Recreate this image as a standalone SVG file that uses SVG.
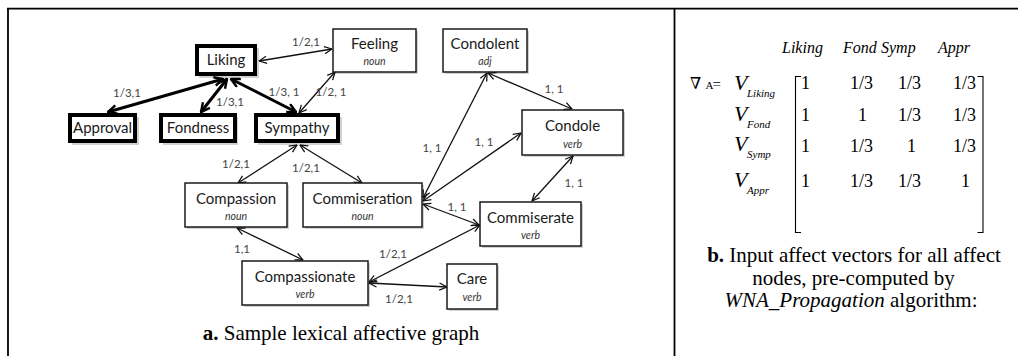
<svg xmlns="http://www.w3.org/2000/svg" width="1018" height="356" viewBox="0 0 1018 356">
  <style>
    .frame { stroke: #000; stroke-width: 1.8; fill: none; }
    .box { fill: #fff; stroke: #1a1a1a; stroke-width: 1.5; }
    .bold { fill: #fff; stroke: #000; stroke-width: 4; }
    .shadow { fill: #000; opacity: 0.18; }
    .name { font-family: Lato, "Liberation Sans", sans-serif; font-size: 15px; fill: #1a1a1a; text-anchor: middle; }
    .pos { font-family: Lato, "Liberation Sans", sans-serif; font-size: 10.5px; font-style: italic; fill: #333; text-anchor: middle; }
    .edge { stroke: #111; stroke-width: 1.3; fill: none; marker-start: url(#tip); marker-end: url(#tip); }
    .edge.heavy { stroke: #000; stroke-width: 3; marker-start: url(#tipHeavy); marker-end: url(#tipHeavy); }
    .wt { font-family: Lato, "Liberation Sans", sans-serif; font-size: 11.5px; fill: #444; text-anchor: middle; }
    .serif, .hdr, .cell, .vec, .sub, .cap { font-family: "Liberation Serif", "Times New Roman", serif; fill: #000; }
    .hdr { font-size: 16px; font-style: italic; }
    .cell { font-size: 18px; }
    .vec { font-size: 22px; font-style: italic; }
    .sub { font-size: 11px; font-style: italic; }
    .cap { font-size: 21px; text-anchor: middle; }
    .nabla { font-family: "DejaVu Serif", "Liberation Serif", serif; font-size: 16px; }
    .brk { stroke: #000; stroke-width: 1.1; fill: none; }
  </style>
  <defs>
    <marker id="tip" markerUnits="userSpaceOnUse" viewBox="0 0 10 10" refX="9.5" refY="5" markerWidth="9" markerHeight="9" orient="auto-start-reverse">
      <path d="M1,1 L9.5,5 L1,9" fill="none" stroke="#111" stroke-width="1.4"/>
    </marker>
    <marker id="tipHeavy" markerUnits="userSpaceOnUse" viewBox="0 0 10 10" refX="9" refY="5" markerWidth="11" markerHeight="11" orient="auto-start-reverse">
      <path d="M1,1 L9,5 L1,9" fill="none" stroke="#000" stroke-width="2.2"/>
    </marker>
  </defs>

  <!-- table frame -->
  <g id="frame">
    <line class="frame" x1="7" y1="8.7" x2="1018" y2="8.7"/>
    <line class="frame" x1="8" y1="8" x2="8" y2="356"/>
    <line class="frame" x1="674.5" y1="8" x2="674.5" y2="356"/>
  </g>

  <!-- connectors -->
  <g id="connectors">
    <line class="edge" x1="259" y1="61" x2="332" y2="49"/>
    <line class="edge heavy" x1="223" y1="79" x2="108" y2="112"/>
    <line class="edge heavy" x1="227" y1="79" x2="201" y2="112"/>
    <line class="edge heavy" x1="231" y1="79" x2="296" y2="112"/>
    <line class="edge" x1="335" y1="72" x2="299" y2="113"/>
    <line class="edge" x1="297" y1="145" x2="238" y2="183"/>
    <line class="edge" x1="300" y1="145" x2="362" y2="183"/>
    <line class="edge" x1="423" y1="198" x2="487" y2="73"/>
    <line class="edge" x1="423" y1="201" x2="521" y2="133"/>
    <line class="edge" x1="423" y1="204" x2="479" y2="225"/>
    <line class="edge" x1="488" y1="73" x2="572" y2="109"/>
    <line class="edge" x1="573" y1="156" x2="532" y2="201"/>
    <line class="edge" x1="237" y1="228" x2="303" y2="260"/>
    <line class="edge" x1="369" y1="282" x2="480" y2="225"/>
    <line class="edge" x1="369" y1="283" x2="447" y2="287"/>

    <text class="wt" x="306" y="46">1/2,1</text>
    <text class="wt" x="127" y="97">1/3,1</text>
    <text class="wt" x="230" y="106">1/3,1</text>
    <text class="wt" x="284" y="96">1/3, 1</text>
    <text class="wt" x="331" y="96">1/2, 1</text>
    <text class="wt" x="236" y="168">1/2,1</text>
    <text class="wt" x="306" y="172">1/2,1</text>
    <text class="wt" x="432" y="152">1, 1</text>
    <text class="wt" x="484" y="146">1, 1</text>
    <text class="wt" x="457" y="211">1, 1</text>
    <text class="wt" x="554" y="93">1, 1</text>
    <text class="wt" x="574" y="187">1, 1</text>
    <text class="wt" x="242" y="253">1,1</text>
    <text class="wt" x="393" y="258">1/2,1</text>
    <text class="wt" x="399" y="303">1/2,1</text>
  </g>

  <!-- affect nodes (bold) -->
  <g id="liking">
    <rect class="shadow" x="199" y="48" width="60" height="30"/>
    <rect class="bold" x="197" y="46" width="58" height="28"/>
    <text class="name" x="226" y="65">Liking</text>
  </g>
  <g id="approval">
    <rect class="shadow" x="72" y="117" width="67" height="28"/>
    <rect class="bold" x="70" y="115" width="65" height="26"/>
    <text class="name" x="102.5" y="133">Approval</text>
  </g>
  <g id="fondness">
    <rect class="shadow" x="163" y="117" width="75" height="28"/>
    <rect class="bold" x="161" y="115" width="74" height="26"/>
    <text class="name" x="198" y="133">Fondness</text>
  </g>
  <g id="sympathy">
    <rect class="shadow" x="258" y="117" width="84" height="28"/>
    <rect class="bold" x="256" y="115" width="82" height="26"/>
    <text class="name" x="297" y="133">Sympathy</text>
  </g>

  <!-- lexical nodes -->
  <g id="feeling">
    <rect class="shadow" x="335" y="31" width="83" height="43"/>
    <rect class="box" x="333" y="29" width="83" height="43"/>
    <text class="name" x="374.5" y="49">Feeling</text>
    <text class="pos" x="374.5" y="65">noun</text>
  </g>
  <g id="condolent">
    <rect class="shadow" x="445" y="31" width="84" height="43"/>
    <rect class="box" x="443" y="29" width="84" height="43"/>
    <text class="name" x="485" y="49">Condolent</text>
    <text class="pos" x="485" y="65">adj</text>
  </g>
  <g id="condole">
    <rect class="shadow" x="524" y="112" width="101" height="45"/>
    <rect class="box" x="522" y="110" width="101" height="45"/>
    <text class="name" x="572.5" y="131">Condole</text>
    <text class="pos" x="572.5" y="148">verb</text>
  </g>
  <g id="compassion">
    <rect class="shadow" x="187" y="185" width="102" height="44"/>
    <rect class="box" x="185" y="183" width="102" height="44"/>
    <text class="name" x="236" y="204">Compassion</text>
    <text class="pos" x="236" y="220">noun</text>
  </g>
  <g id="commiseration">
    <rect class="shadow" x="305" y="185" width="119" height="44"/>
    <rect class="box" x="303" y="183" width="119" height="44"/>
    <text class="name" x="362.5" y="204">Commiseration</text>
    <text class="pos" x="362.5" y="220">noun</text>
  </g>
  <g id="commiserate">
    <rect class="shadow" x="482" y="204" width="101" height="44"/>
    <rect class="box" x="480" y="202" width="101" height="44"/>
    <text class="name" x="530.5" y="223">Commiserate</text>
    <text class="pos" x="530.5" y="239">verb</text>
  </g>
  <g id="compassionate">
    <rect class="shadow" x="244" y="263" width="126" height="44"/>
    <rect class="box" x="242" y="261" width="126" height="44"/>
    <text class="name" x="305" y="282">Compassionate</text>
    <text class="pos" x="305" y="298">verb</text>
  </g>
  <g id="care">
    <rect class="shadow" x="449" y="266" width="50" height="45"/>
    <rect class="box" x="447" y="264" width="50" height="45"/>
    <text class="name" x="472" y="284">Care</text>
    <text class="pos" x="472" y="301">verb</text>
  </g>

  <text class="cap" x="341" y="340"><tspan font-weight="bold">a.</tspan> Sample lexical affective graph</text>

  <!-- affect vector matrix -->
  <g id="matrix">
    <text class="hdr" x="782" y="53">Liking</text>
    <text class="hdr" x="843" y="53">Fond</text>
    <text class="hdr" x="881" y="53">Symp</text>
    <text class="hdr" x="938" y="53">Appr</text>

    <text class="nabla" x="690" y="89">∇</text>
    <text class="serif" x="705.5" y="89" font-size="11">A</text>
    <text class="serif" x="712.5" y="89" font-size="15">=</text>

    <text class="vec" x="734" y="90">V</text><text class="sub" x="747" y="97">Liking</text>
    <text class="vec" x="734" y="121">V</text><text class="sub" x="747" y="128">Fond</text>
    <text class="vec" x="734" y="151">V</text><text class="sub" x="747" y="158">Symp</text>
    <text class="vec" x="734" y="187">V</text><text class="sub" x="747" y="194">Appr</text>

    <path class="brk" d="M801,76.5 H795.5 V232.5 H801"/>
    <path class="brk" d="M977.5,76.5 H983 V232.5 H977.5"/>

    <text class="cell" x="801" y="89">1</text>
    <text class="cell" x="850" y="89">1/3</text>
    <text class="cell" x="898" y="89">1/3</text>
    <text class="cell" x="953" y="89">1/3</text>

    <text class="cell" x="801" y="121">1</text>
    <text class="cell" x="858" y="121">1</text>
    <text class="cell" x="898" y="121">1/3</text>
    <text class="cell" x="953" y="121">1/3</text>

    <text class="cell" x="801" y="152">1</text>
    <text class="cell" x="850" y="152">1/3</text>
    <text class="cell" x="907" y="152">1</text>
    <text class="cell" x="953" y="152">1/3</text>

    <text class="cell" x="801" y="187">1</text>
    <text class="cell" x="850" y="187">1/3</text>
    <text class="cell" x="898" y="187">1/3</text>
    <text class="cell" x="961" y="187">1</text>
  </g>

  <g id="caption-b">
    <text class="cap" x="854" y="262"><tspan font-weight="bold">b.</tspan> Input affect vectors for all affect</text>
    <text class="cap" x="853.5" y="285">nodes, pre-computed by</text>
    <text class="cap" x="851" y="307"><tspan font-style="italic">WNA_Propagation</tspan> algorithm:</text>
  </g>
</svg>
